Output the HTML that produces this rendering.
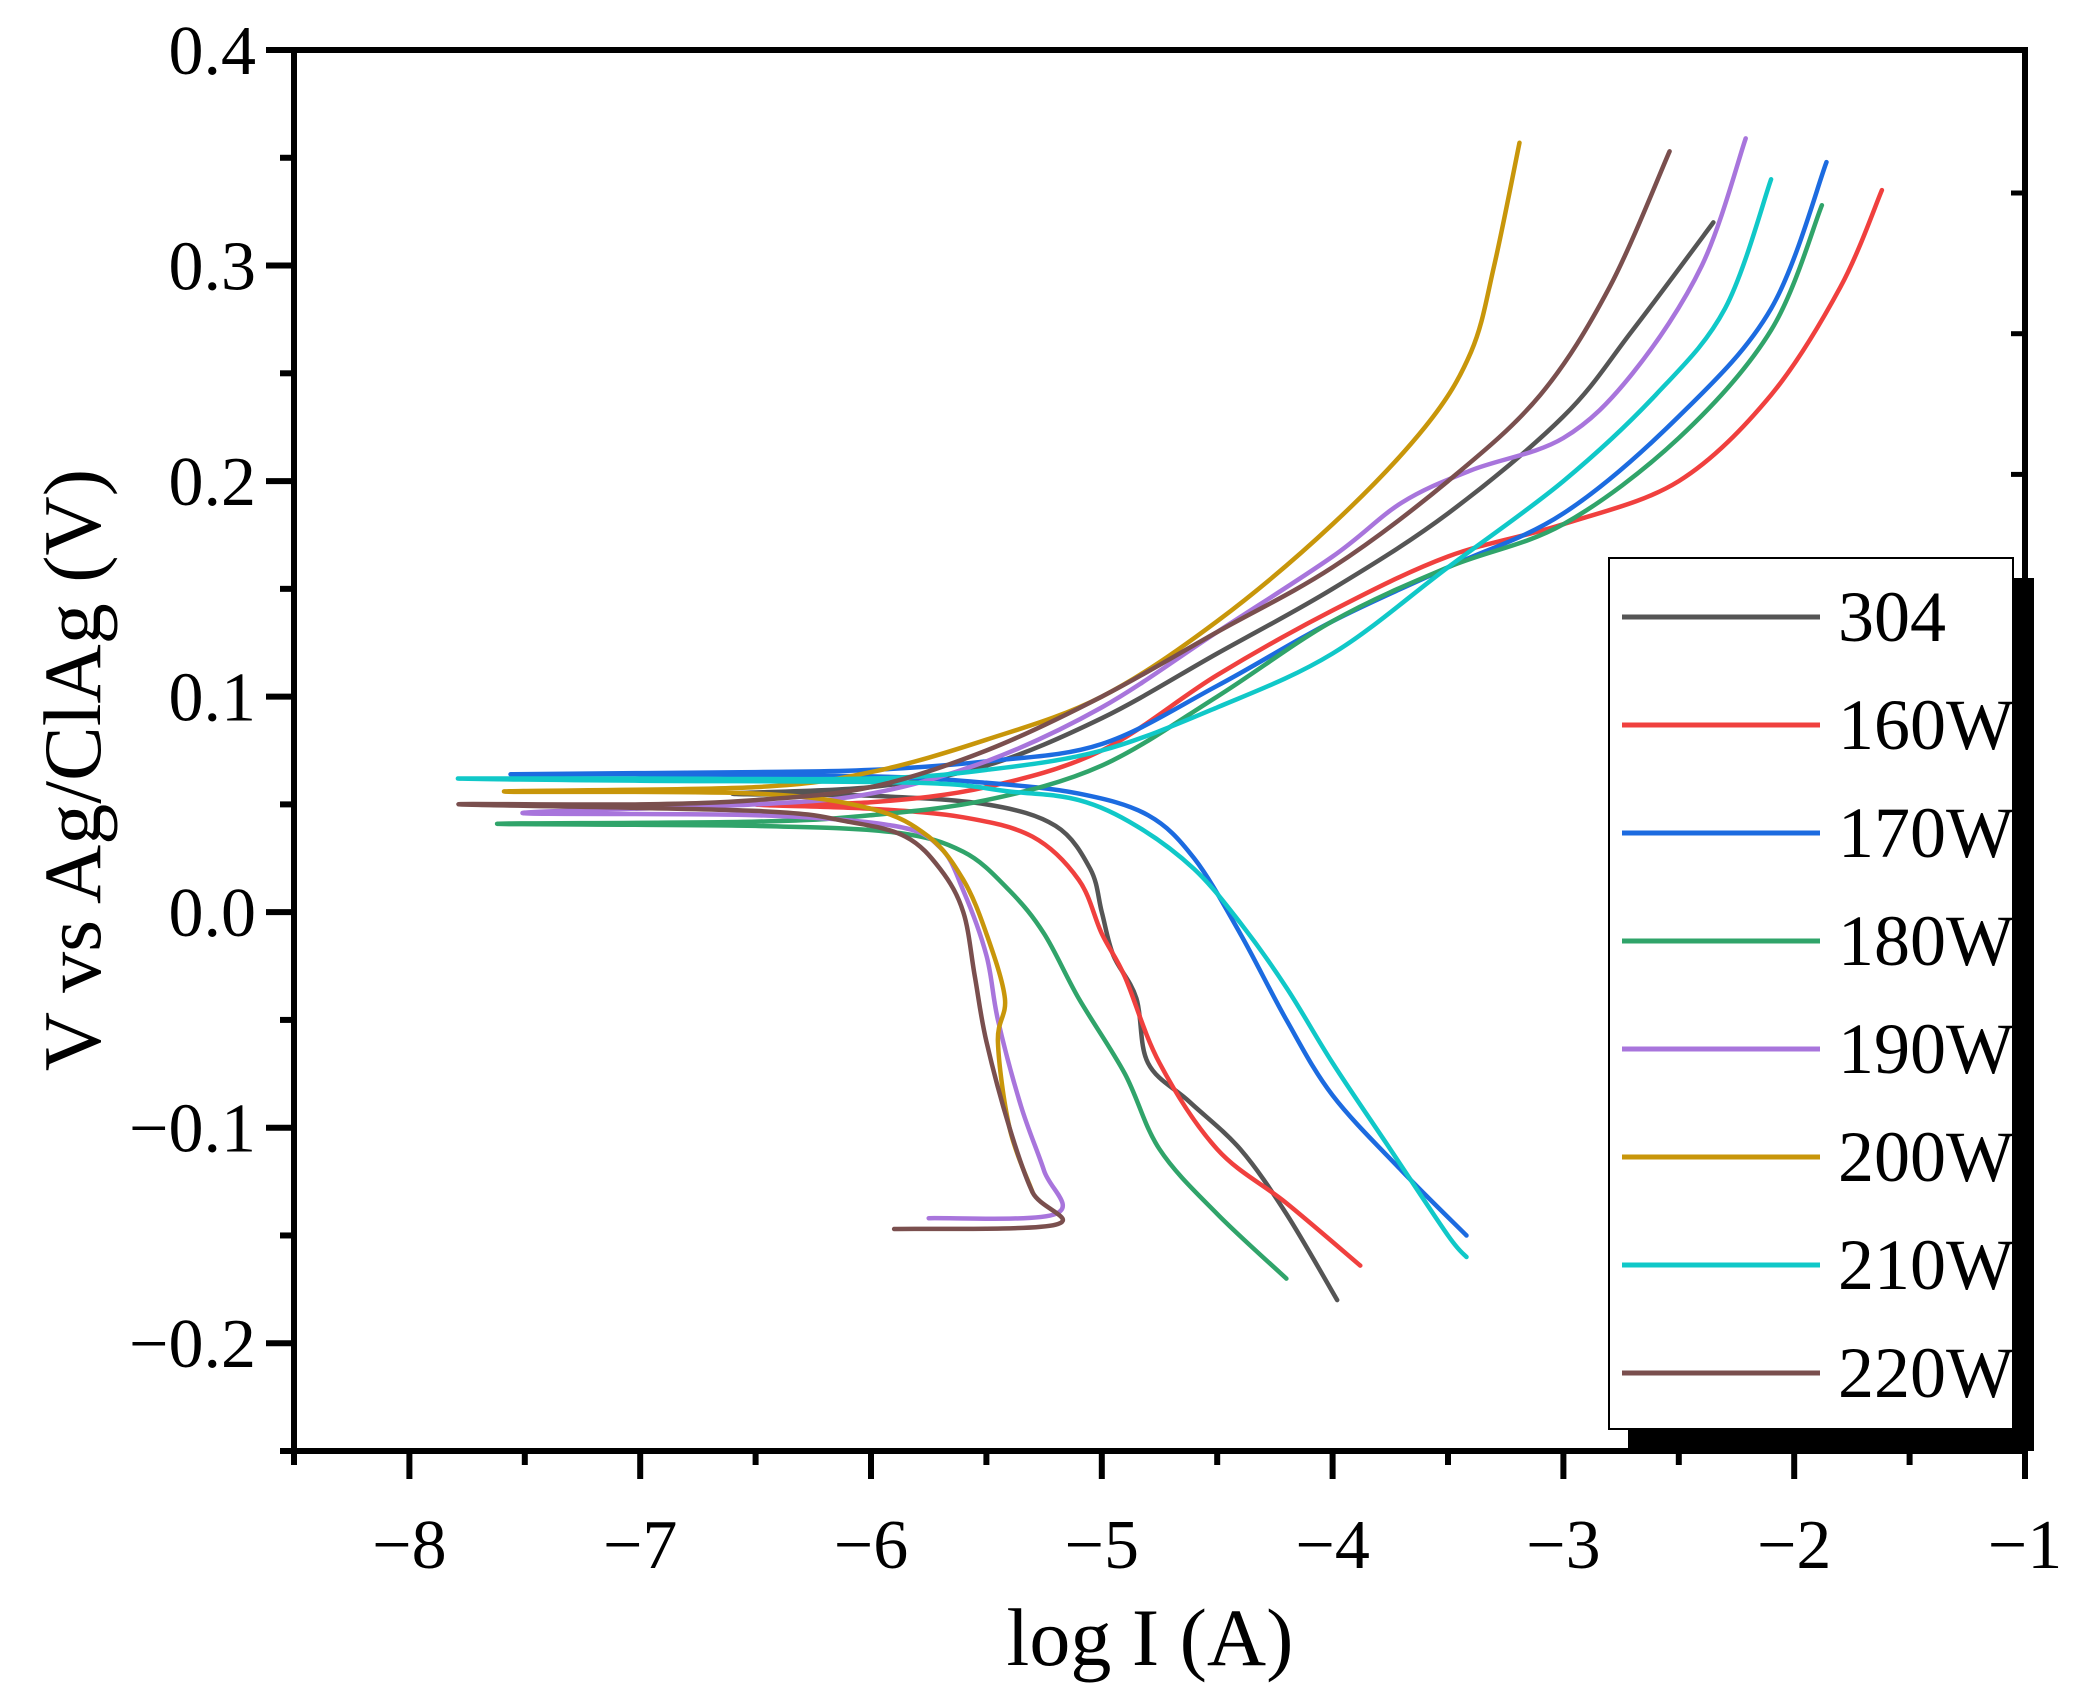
<!DOCTYPE html>
<html><head><meta charset="utf-8">
<style>
html,body{margin:0;padding:0;background:#fff;}
svg{display:block;}
text{font-family:"Liberation Serif",serif;fill:#000;}
</style></head>
<body>
<svg id="chart" width="2073" height="1692" viewBox="0 0 2073 1692" xmlns="http://www.w3.org/2000/svg">
  <g id="series"></g>
  <g id="axes"></g>
  <g id="legend"></g>
</svg>
<script>
const names = ["304","160W","170W","180W","190W","200W","210W","220W"];
const colors = ["#555555","#f0403e","#1c6be0","#30a46a","#a875dc","#c8960a","#10c8c8","#7a4f4e"];
const xTicks = [-8,-7,-6,-5,-4,-3,-2,-1];
const yTicks = [0.4,0.3,0.2,0.1,0.0,-0.1,-0.2];
const yTickLabels = ["0.4","0.3","0.2","0.1","0.0","\u22120.1","\u22120.2"];
const xTickLabels = ["\u22128","\u22127","\u22126","\u22125","\u22124","\u22123","\u22122","\u22121"];

const s304x = [-3.98,-4.2,-4.4,-4.62,-4.8,-4.85,-4.95,-5.0,-5.05,-5.2,-5.5,-6.0,-6.6,-6.0,-5.5,-5.0,-4.5,-4.0,-3.5,-3.0,-2.7,-2.35];
const s304y = [-0.18,-0.14,-0.11,-0.088,-0.07,-0.04,-0.02,0.0,0.02,0.04,0.05,0.054,0.055,0.058,0.068,0.09,0.12,0.15,0.185,0.23,0.27,0.32];
const s160x = [-3.88,-4.2,-4.5,-4.75,-4.9,-5.0,-5.1,-5.3,-5.6,-6.0,-6.5,-6.0,-5.5,-5.0,-4.5,-4.0,-3.5,-3.0,-2.5,-2.1,-1.8,-1.62];
const s160y = [-0.164,-0.135,-0.11,-0.07,-0.03,-0.01,0.015,0.035,0.044,0.048,0.05,0.051,0.058,0.075,0.11,0.14,0.165,0.18,0.2,0.24,0.29,0.335];
const s170x = [-3.42,-3.7,-4.0,-4.2,-4.4,-4.6,-4.8,-5.1,-5.5,-6.0,-7.0,-7.55,-6.5,-6.0,-5.5,-5.0,-4.5,-4.0,-3.5,-3.0,-2.5,-2.1,-1.86];
const s170y = [-0.15,-0.12,-0.085,-0.05,-0.01,0.025,0.045,0.055,0.06,0.063,0.064,0.064,0.065,0.066,0.07,0.078,0.105,0.135,0.16,0.185,0.23,0.28,0.348];
const s180x = [-4.2,-4.5,-4.75,-4.9,-5.1,-5.25,-5.4,-5.6,-5.9,-6.5,-7.62,-6.5,-6.0,-5.5,-5.0,-4.5,-4.0,-3.5,-3.0,-2.5,-2.1,-1.88];
const s180y = [-0.17,-0.14,-0.11,-0.075,-0.04,-0.01,0.01,0.028,0.037,0.04,0.041,0.042,0.045,0.052,0.068,0.1,0.135,0.16,0.18,0.22,0.27,0.328];
const s190x = [-5.75,-5.2,-5.25,-5.35,-5.45,-5.5,-5.6,-5.7,-5.9,-6.5,-7.51,-6.5,-6.0,-5.5,-5.0,-4.5,-4.0,-3.7,-3.4,-3.0,-2.7,-2.4,-2.21];
const s190y = [-0.142,-0.14,-0.12,-0.09,-0.05,-0.02,0.01,0.03,0.04,0.045,0.046,0.05,0.055,0.07,0.095,0.13,0.165,0.19,0.205,0.22,0.25,0.3,0.359];
const s200x = [-5.3,-5.4,-5.45,-5.42,-5.5,-5.6,-5.75,-6.0,-6.5,-7.59,-6.5,-6.0,-5.5,-5.0,-4.5,-4.0,-3.6,-3.4,-3.3,-3.19];
const s200y = [-0.13,-0.1,-0.06,-0.04,-0.01,0.015,0.035,0.048,0.055,0.056,0.058,0.065,0.08,0.1,0.135,0.18,0.225,0.26,0.3,0.357];
const s210x = [-3.42,-3.5,-3.75,-4.0,-4.2,-4.4,-4.6,-4.85,-5.1,-5.4,-5.8,-7.0,-7.79,-7.0,-6.0,-5.5,-5.0,-4.5,-4.0,-3.5,-3.0,-2.6,-2.3,-2.1];
const s210y = [-0.16,-0.15,-0.11,-0.07,-0.035,-0.005,0.02,0.04,0.052,0.056,0.06,0.061,0.062,0.062,0.062,0.066,0.075,0.095,0.12,0.16,0.2,0.24,0.28,0.34];
const s220x = [-5.9,-5.2,-5.3,-5.4,-5.5,-5.55,-5.6,-5.7,-5.85,-6.1,-6.5,-7.78,-7.0,-6.5,-6.0,-5.5,-5.0,-4.5,-4.0,-3.5,-3.1,-2.8,-2.54];
const s220y = [-0.147,-0.145,-0.13,-0.1,-0.06,-0.03,0.0,0.02,0.035,0.042,0.047,0.05,0.05,0.052,0.058,0.075,0.1,0.13,0.16,0.2,0.24,0.29,0.353];

const seriesX = [s304x,s160x,s170x,s180x,s190x,s200x,s210x,s220x];
const seriesY = [s304y,s160y,s170y,s180y,s190y,s200y,s210y,s220y];

const NS = "http://www.w3.org/2000/svg";
const L = 294, R = 2025, T = 50, B = 1451;
const xMin = -8.5, xMax = -1, yMin = -0.25, yMax = 0.4;
function xs(v){ return L + (v - xMin) / (xMax - xMin) * (R - L); }
function ys(v){ return B - (v - yMin) / (yMax - yMin) * (B - T); }
function mk(tag, attrs, parent){
  const e = document.createElementNS(NS, tag);
  for (const k in attrs) e.setAttribute(k, attrs[k]);
  parent.appendChild(e);
  return e;
}
function smoothPath(p){
  let d = "M" + p[0][0].toFixed(1) + "," + p[0][1].toFixed(1);
  for (let i = 0; i < p.length - 1; i++) {
    const p0 = p[Math.max(0, i - 1)], p1 = p[i], p2 = p[i + 1], p3 = p[Math.min(p.length - 1, i + 2)];
    const c1x = p1[0] + (p2[0] - p0[0]) / 6, c1y = p1[1] + (p2[1] - p0[1]) / 6;
    const c2x = p2[0] - (p3[0] - p1[0]) / 6, c2y = p2[1] - (p3[1] - p1[1]) / 6;
    d += " C" + c1x.toFixed(1) + "," + c1y.toFixed(1) + " " + c2x.toFixed(1) + "," + c2y.toFixed(1) + " " + p2[0].toFixed(1) + "," + p2[1].toFixed(1);
  }
  return d;
}
const gS = document.getElementById("series");
const gA = document.getElementById("axes");
const gL = document.getElementById("legend");

for (let i = 0; i < names.length; i++) {
  const pts = seriesX[i].map((x, j) => [xs(x), ys(seriesY[i][j])]);
  const pl = mk("path", {d: smoothPath(pts), fill: "none", stroke: colors[i], "stroke-width": 4.5, "stroke-linejoin": "round", "stroke-linecap": "round"}, gS);
  
  
}

const fr = mk("rect", {x: L, y: T, width: R - L, height: B - T, fill: "none", stroke: "#000", "stroke-width": 6}, gA);



for (let i = 0; i < yTicks.length; i++) {
  const y = ys(yTicks[i]);
  const t = mk("line", {x1: L - 28, x2: L, y1: y, y2: y, stroke: "#000", "stroke-width": 6}, gA);
  
  
  const lb = mk("text", {x: 256, y: y + 24, "font-size": 70, "text-anchor": "end"}, gA);
  lb.textContent = yTickLabels[i];
  
  
}
for (let v = -0.25; v < 0.4; v += 0.1) {
  const y = ys(v);
  const t = mk("line", {x1: L - 14, x2: L, y1: y, y2: y, stroke: "#000", "stroke-width": 6}, gA);
  
  
}
for (let i = 0; i < xTicks.length; i++) {
  const x = xs(xTicks[i]);
  const t = mk("line", {x1: x, x2: x, y1: B, y2: B + 28, stroke: "#000", "stroke-width": 6}, gA);
  
  
  const lb = mk("text", {x: x, y: 1568, "font-size": 70, "text-anchor": "middle"}, gA);
  lb.textContent = xTickLabels[i];
  
  
}
for (let v = -8.5; v < -1; v += 1) {
  const x = xs(v);
  const t = mk("line", {x1: x, x2: x, y1: B, y2: B + 14, stroke: "#000", "stroke-width": 6}, gA);
  
  
}
for (let k = 0; k < 9; k++) {
  const y = 193 + k * 140.7;
  const t = mk("line", {x1: R - 14, x2: R, y1: y, y2: y, stroke: "#000", "stroke-width": 5}, gA);
  
  
}
const xt = mk("text", {x: 1150, y: 1665, "font-size": 82, "text-anchor": "middle"}, gA);
xt.textContent = "log I (A)";


const yt = mk("text", {x: 0, y: 0, "font-size": 82, "text-anchor": "middle", transform: "translate(100,770) rotate(-90)"}, gA);
yt.textContent = "V vs Ag/ClAg (V)";



const sh1 = mk("rect", {x: 2013, y: 578, width: 21, height: 873, fill: "#000"}, gL);


const sh2 = mk("rect", {x: 1628, y: 1429, width: 406, height: 22, fill: "#000"}, gL);


const box = mk("rect", {x: 1609, y: 558, width: 404, height: 871, fill: "#fff", stroke: "#000", "stroke-width": 2}, gL);


for (let i = 0; i < names.length; i++) {
  const y = 617 + i * 108;
  const ln = mk("line", {x1: 1622, x2: 1820, y1: y, y2: y, stroke: colors[i], "stroke-width": 5}, gL);
  
  
  const tx = mk("text", {x: 1838, y: y + 24, "font-size": 72}, gL);
  tx.textContent = names[i];
  
  
}
</script>
</body></html>
